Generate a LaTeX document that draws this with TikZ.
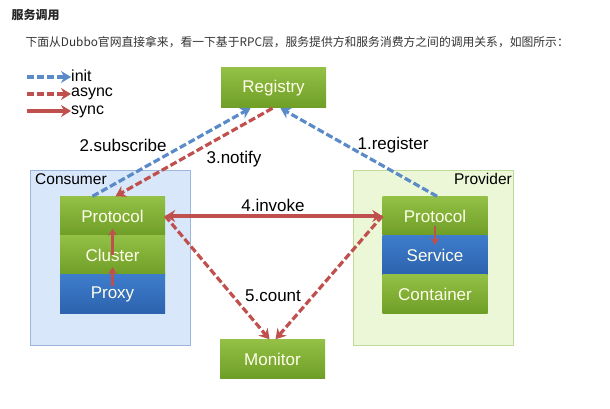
\documentclass[tikz,border=0pt]{standalone}
\usepackage{fontspec}
\setmainfont{Liberation Sans}
\newfontfamily\cjk{Noto Sans CJK SC}
\usetikzlibrary{arrows.meta}

\definecolor{grn}{HTML}{6F9E27}
\definecolor{grnlt}{HTML}{93C045}
\definecolor{blu}{HTML}{2C62AE}
\definecolor{blult}{HTML}{3E7DCC}
\definecolor{arrblue}{HTML}{5A8BC8}
\definecolor{arrred}{HTML}{C0504D}
\definecolor{consbg}{HTML}{D8E7FA}
\definecolor{consfr}{HTML}{9DB7DC}
\definecolor{provbg}{HTML}{EBF7D7}
\definecolor{provfr}{HTML}{BFDB97}

\begin{document}
\begin{tikzpicture}[x=1pt,y=-1pt]
      \tikzset{box/.style={minimum width=105pt,
          minimum height=39pt,
          inner sep=0pt,
          top color=#1lt,
          bottom color=#1,
          text=white!92!yellow,
          font=\fontsize{17}{17}\selectfont},
        init line/.style={arrblue, line width=3.2pt, dash pattern=on 7pt off 3pt, -{Stealth[length=10pt,width=12pt]}},
        async line/.style={arrred, line width=3.2pt, dash pattern=on 7pt off 3pt, -{Stealth[length=10pt,width=12pt]}},
        sync line/.style={arrred, line width=3.2pt, -{Stealth[length=10pt,width=12pt]}},
        lbl/.style={font=\fontsize{17}{17}\selectfont, inner sep=0pt}
      }
      \useasboundingbox (0,0) rectangle (610,409);
      \node [anchor=west, font=\cjk\bfseries\fontsize{12}{12}\selectfont, text=black!85] (title) at (8,15) {服务调用};
      \node [anchor=west, font=\cjk\fontsize{11.8}{12}\selectfont, text=black!80] (intro) at (22,42) {下面从Dubbo官网直接拿来，看一下基于RPC层，服务提供方和服务消费方之间的调用关系，如图所示：};

      % legend
      \node [lbl, font=\fontsize{16}{16}\selectfont, anchor=west] (kinit) at (71,76) {init};
      \node [lbl, font=\fontsize{16}{16}\selectfont, anchor=west] (kasync) at (71,94) {async};
      \node [lbl, font=\fontsize{16}{16}\selectfont, anchor=west] (ksync) at (71,112) {sync};
      \coordinate (linit) at (27,77);
      \coordinate (lasync) at (27,94);
      \coordinate (lsync) at (27,111);
      \draw [init line] (linit) -- (kinit.west |- linit);
      \draw [async line] (lasync) -- (kasync.west |- lasync);
      \draw [sync line] (lsync) -- (ksync.west |- lsync);

      % containers
      \draw [fill=consbg, draw=consfr, line width=0.8pt] (30,170) rectangle (190,345);
      \draw [fill=provbg, draw=provfr, line width=0.8pt] (353,170) rectangle (513,345);
      \node [lbl, font=\fontsize{15.5}{15}\selectfont, anchor=west] (cons) at (35,179) {Consumer};
      \node [lbl, font=\fontsize{15.5}{15}\selectfont, anchor=east] (prov) at (512,179) {Provider};

      \node [box=grn, minimum height=40pt] (Reg) at (273.5,88) {Registry};
      \node [box=grn] (Mon) at (272.5,359) {Monitor};

      \node [box=grn] (Cprot) at (112.5,216) {Protocol};
      \node [box=grn, minimum height=40pt] (Clus) at (112.5,255) {Cluster};
      \node [box=blu] (Proxy) at (112.5,294) {Proxy};

      \node [box=grn] (Pprot) at (435,216) {Protocol};
      \node [box=blu, minimum height=40pt] (Serv) at (435,255) {Service};
      \node [box=grn] (Cont) at (435,294) {Container};

      % calls
      \draw [init line] ([xshift=-20pt]Cprot.north) -- ([xshift=-23pt]Reg.south);
      \draw [async line] ([xshift=-1pt]Reg.south) -- ([xshift=3pt]Cprot.north);
      \draw [init line] ([xshift=2pt]Pprot.north) -- ([xshift=7pt]Reg.south);
      \draw [sync line, {Stealth[length=10pt,width=12pt]}-{Stealth[length=10pt,width=12pt]}] (Cprot.east) -- (Pprot.west);
      \draw [async line] (Cprot.east) -- ([xshift=-3pt]Mon.north);
      \draw [async line] (Pprot.west) -- ([xshift=3pt]Mon.north);

      \draw [sync line, line width=2.4pt, -{Stealth[length=7pt,width=9pt]}] ([yshift=-12pt]Proxy.north) -- ([yshift=8pt]Clus.south);
      \draw [sync line, line width=2.4pt, -{Stealth[length=7pt,width=9pt]}] ([yshift=-20pt]Clus.north) -- ([yshift=7pt]Cprot.south);
      \draw [sync line, line width=2.4pt, -{Stealth[length=7pt,width=9pt]}] ([yshift=10pt]Pprot.south) -- ([yshift=-10pt]Serv.north);

      \node [lbl] (t1) at (393,145) {1.register};
      \node [lbl] (t2) at (123,145) {2.subscribe};
      \node [lbl] (t3) at (234,159) {3.notify};
      \node [lbl] (t4) at (273,205) {4.invoke};
      \node [lbl] (t5) at (273,296) {5.count};
\end{tikzpicture}
\end{document}
